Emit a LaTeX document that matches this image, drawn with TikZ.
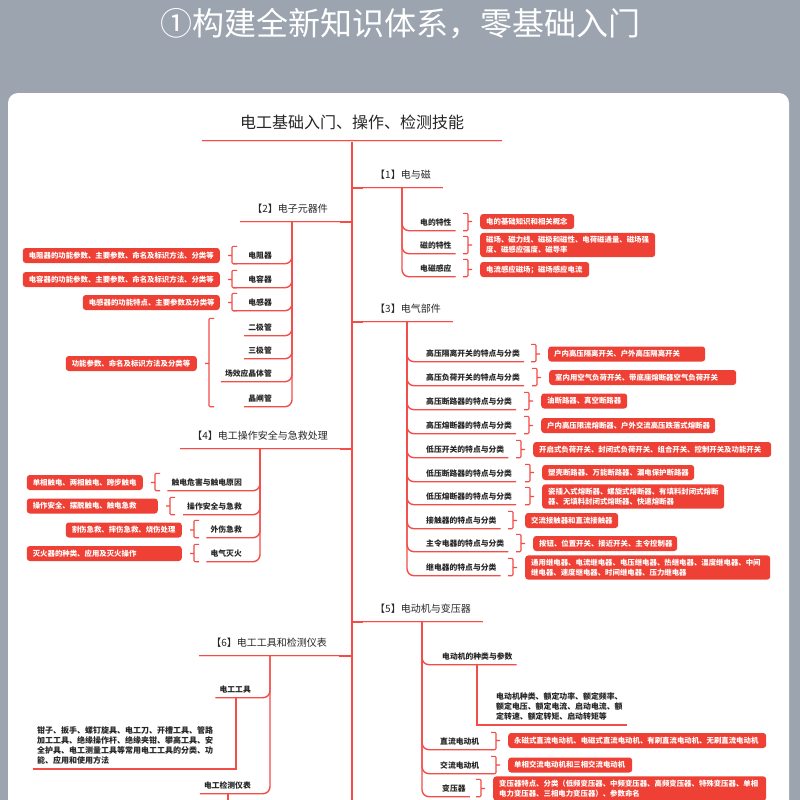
\documentclass[tikz,border=0pt]{standalone}
\usepackage{fontspec}
\setmainfont{Noto Sans CJK SC}
\usepackage{xcolor}
\usetikzlibrary{positioning}

\definecolor{bggray}{RGB}{155,164,175}
\definecolor{linered}{RGB}{244,76,70}
\definecolor{linepale}{RGB}{255,214,210}
\definecolor{tagred}{RGB}{238,64,52}
\definecolor{ink}{RGB}{38,38,38}

% bracket between item(s) #1..#2 and a tag #3 lying right of them
\newcommand{\tagbrR}[3]{%
  \draw[brk] ([xshift=-17pt]#3.west |- #1.north) -- ([xshift=-12pt]#3.west |- #1.north)
    -- ([xshift=-12pt]#3.west |- #2.south) -- ([xshift=-17pt]#3.west |- #2.south)
    ([xshift=-12pt]#3.west) -- ([xshift=-8pt]#3.west);}
% same, tag lying left of them
\newcommand{\tagbrL}[3]{%
  \draw[brk] ([xshift=17pt]#3.east |- #1.north) -- ([xshift=12pt]#3.east |- #1.north)
    -- ([xshift=12pt]#3.east |- #2.south) -- ([xshift=17pt]#3.east |- #2.south)
    ([xshift=12pt]#3.east) -- ([xshift=8pt]#3.east);}

\begin{document}
\begin{tikzpicture}[
    x=1pt, y=-1pt,
    head/.style={font=\fontsize{16}{16}\selectfont, text=ink, text height=14pt, text depth=1.6pt, inner ysep=11pt, minimum width=300pt},
    sec/.style={font=\fontsize{10}{10}\selectfont, text=ink, text height=8.7pt, text depth=1pt, inner xsep=12pt, inner ysep=8.2pt},
    item/.style={font=\bfseries\fontsize{7.8}{7.8}\selectfont, text=ink, text height=6.8pt, text depth=0.8pt, inner xsep=4pt, inner ysep=4.7pt},
    tag/.style={fill=tagred, rounded corners=3pt, text=white, font=\bfseries\fontsize{7.4}{10}\selectfont, inner xsep=6pt, inner ysep=3.5pt, minimum height=15pt, align=left},
    note/.style={font=\bfseries\fontsize{7.9}{10.4}\selectfont, text=ink, align=left, inner sep=4pt},
    dline/.style={draw=linered, line width=0.9pt, double=linepale, double distance=0.9pt},
    trunk/.style={draw=linered, line width=1.4pt},
    branch/.style={draw=linered, line width=1.4pt, rounded corners=7pt},
    brk/.style={draw=linered, line width=1.1pt, rounded corners=1pt}
]
\useasboundingbox (0,0) rectangle (800,800);
\clip (0,0) rectangle (800,800);

% Background and card
\fill[bggray] (0,0) rectangle (800,800);
\fill[white, rounded corners=10pt] (8,93) rectangle (789,840);
\node[font=\fontsize{32}{32}\selectfont, text=white] (title) at (400,24) {①构建全新知识体系，零基础入门};

% Root
\node[head, anchor=south] (head) at (352,141) {电工基础入门、操作、检测技能};
\coordinate (trunkend) at (352,810);

% Sections
\node[sec, anchor=south west] (s1) at (363,188) {【1】电与磁};
\node[sec, anchor=south east] (s2) at (340,222) {【2】电子元器件};
\node[sec, anchor=south west] (s3) at (363,322) {【3】电气部件};
\node[sec, anchor=south east] (s4) at (340,449) {【4】电工操作安全与急救处理};
\node[sec, anchor=south west] (s5) at (363,622) {【5】电动机与变压器};
\node[sec, anchor=south east] (s6) at (339,656) {【6】电工工具和检测仪表};

% [1] items
\coordinate (v1) at (402,188);
\node[item, anchor=west] (c11) at (416,222) {电的特性};
\node[item, anchor=west] (c12) at (416,245) {磁的特性};
\node[item, anchor=west] (c13) at (416,268) {电磁感应};
\node[tag, anchor=west, text width=82pt] (t11) at (480,221.5) {电的基础知识和相关概念};
\node[tag, anchor=west, text width=163pt] (t12) at (480,245) {磁场、磁力线、磁极和磁性、电荷磁通量、磁场强\\度、磁感应强度、磁导率};
\node[tag, anchor=west, text width=97pt] (t13) at (480,269.5) {电流感应磁场；磁场感应电流};

% [2] items
\coordinate (v2) at (292,222);
\node[item, anchor=east] (c21) at (276,255) {电阻器};
\node[item, anchor=east] (c22) at (276,279) {电容器};
\node[item, anchor=east] (c23) at (276,302) {电感器};
\node[item, anchor=east] (c24) at (276,327) {二极管};
\node[item, anchor=east] (c25) at (276,350) {三极管};
\node[item, anchor=east] (c26) at (276,373) {场效应晶体管};
\node[item, anchor=east] (c27) at (276,398) {晶闸管};
\node[tag, anchor=east, text width=185pt] (t21) at (220,255.5) {电阻器的功能参数、主要参数、命名及标识方法、分类等};
\node[tag, anchor=east, text width=185pt] (t22) at (220,279.5) {电容器的功能参数、主要参数、命名及标识方法、分类等};
\node[tag, anchor=east, text width=125pt] (t23) at (220,302.5) {电感器的功能特点、主要参数及分类等};
\node[tag, anchor=east, text width=119pt] (t24) at (197,363.5) {功能参数、命名及标识方法及分类等};

% [3] items
\coordinate (v3) at (407,322);
\node[item, anchor=west] (c31) at (422,353) {高压隔离开关的特点与分类};
\node[item, anchor=west] (c32) at (422,377) {高压负荷开关的特点与分类};
\node[item, anchor=west] (c33) at (422,401) {高压断路器的特点与分类};
\node[item, anchor=west] (c34) at (422,425) {高压熔断器的特点与分类};
\node[item, anchor=west] (c35) at (422,449) {低压开关的特点与分类};
\node[item, anchor=west] (c36) at (422,473) {低压断路器的特点与分类};
\node[item, anchor=west] (c37) at (422,496) {低压熔断器的特点与分类};
\node[item, anchor=west] (c38) at (422,520) {接触器的特点与分类};
\node[item, anchor=west] (c39) at (422,543) {主令电器的特点与分类};
\node[item, anchor=west] (c310) at (422,567) {继电器的特点与分类};
\node[tag, anchor=west, text width=145pt] (t31) at (548,354) {户内高压隔离开关、户外高压隔离开关};
\node[tag, anchor=west, text width=175pt] (t32) at (549,377.5) {室内用空气负荷开关、带底座熔断器空气负荷开关};
\node[tag, anchor=west, text width=74pt] (t33) at (541,401) {油断路器、真空断路器};
\node[tag, anchor=west, text width=162pt] (t34) at (541,425.5) {户内高压限流熔断器、户外交流高压跌落式熔断器};
\node[tag, anchor=west, text width=226pt] (t35) at (533,449.5) {开启式负荷开关、封闭式负荷开关、组合开关、控制开关及功能开关};
\node[tag, anchor=west, text width=140pt] (t36) at (542,472.5) {塑壳断路器、万能断路器、漏电保护断路器};
\node[tag, anchor=west, text width=170pt] (t37) at (542,496.5) {瓷插入式熔断器、螺旋式熔断器、有填料封闭式熔断\\器、无填料封闭式熔断器、快速熔断器};
\node[tag, anchor=west, text width=81pt] (t38) at (525,520.5) {交流接触器和直流接触器};
\node[tag, anchor=west, text width=132pt] (t39) at (533,543.5) {按钮、位置开关、接近开关、主令控制器};
\node[tag, anchor=west, text width=233pt] (t310) at (525,567.5) {通用继电器、电流继电器、电压继电器、热继电器、温度继电器、中间\\继电器、速度继电器、时间继电器、压力继电器};

% [4] items
\coordinate (v4) at (260,449);
\node[item, anchor=east] (c41) at (246,482) {触电危害与触电原因};
\node[item, anchor=east] (c42) at (246,506) {操作安全与急救};
\node[item, anchor=east] (c43) at (246,529) {外伤急救};
\node[item, anchor=east] (c44) at (246,553) {电气灭火};
\node[tag, anchor=east, text width=104pt] (t41) at (143,482.5) {单相触电、两相触电、跨步触电};
\node[tag, anchor=east, text width=119pt] (t42) at (158,506) {操作安全、摆脱触电、触电急救};
\node[tag, anchor=east, text width=104pt] (t43) at (182,530) {割伤急救、摔伤急救、烧伤处理};
\node[tag, anchor=east, text width=143pt] (t44) at (182,553.5) {灭火器的种类、应用及灭火操作};

% [5] items
\coordinate (v5) at (422,622);
\node[item, anchor=west] (c51) at (438,656) {电动机的种类与参数};
\coordinate (v51) at (477,664);
\node[note, anchor=south west] (n51) at (492,725) {电动机种类、额定功率、额定频率、\\额定电压、额定电流、启动电流、额\\定转速、额定转矩、启动转矩等};
\node[item, anchor=west] (c52) at (436,741) {直流电动机};
\node[item, anchor=west] (c53) at (436,765) {交流电动机};
\node[item, anchor=west] (c54) at (438,788) {变压器};
\node[tag, anchor=west, text width=246pt] (t51) at (508,740.5) {永磁式直流电动机、电磁式直流电动机、有刷直流电动机、无刷直流电动机};
\node[tag, anchor=west, text width=112pt] (t52) at (508,765) {单相交流电动机和三相交流电动机};
\node[tag, anchor=west, text width=261pt] (t53) at (493,788.5) {变压器特点、分类（低频变压器、中频变压器、高频变压器、特殊变压器、单相\\电力变压器、三相电力变压器）、参数命名};

% [6] items
\coordinate (v6) at (270,656);
\node[item, anchor=east] (c61) at (255,689) {电工工具};
\coordinate (v61) at (236,698);
\node[note, font=\bfseries\fontsize{8}{10}\selectfont, anchor=south west] (n61) at (33,769) {钳子、扳手、螺钉旋具、电工刀、开槽工具、管路\\加工工具、绝缘操作杆、绝缘夹钳、攀高工具、安\\全护具、电工测量工具等常用电工工具的分类、功\\能、应用和使用方法};
\node[item, anchor=east] (c62) at (255,785) {电工检测仪表};
\coordinate (v62) at (228,793);
\coordinate (v62end) at (228,810);

% Trunk and section lines
\draw[trunk] (head.south) -- (trunkend);
\draw[trunk] (head.south |- s1.south west) -- (s1.south west);
\draw[trunk] (s2.south east) -- (head.south |- s2.south east);
\draw[trunk] (head.south |- s3.south west) -- (s3.south west);
\draw[trunk] (s4.south east) -- (head.south |- s4.south east);
\draw[trunk] (head.south |- s5.south west) -- (s5.south west);
\draw[trunk] (s6.south east) -- (head.south |- s6.south east);
\draw[dline] (head.south west) -- (head.south east);
\draw[dline] (s1.south west) -- (s1.south east);
\draw[dline] (s2.south west) -- (s2.south east);
\draw[dline] (s3.south west) -- (s3.south east);
\draw[dline] (s4.south west) -- (s4.south east);
\draw[dline] (s5.south west) -- (s5.south east);
\draw[dline] (s6.south west) -- (s6.south east);

% Branches
\draw[branch] (v1) |- (c11.south east);
\draw[branch] (v1) |- (c12.south east);
\draw[branch] (v1) |- (c13.south east);

\draw[branch] (v2) |- ([xshift=-11pt]c21.south west);
\draw[branch] (v2) |- ([xshift=-11pt]c22.south west);
\draw[branch] (v2) |- ([xshift=-11pt]c23.south west);
\draw[branch] (v2) |- (c24.south west);
\draw[branch] (v2) |- (c25.south west);
\draw[branch] (v2) |- (c26.south west);
\draw[branch] (v2) |- (c27.south west);

\draw[branch] (v3) |- (c31.south east);
\draw[branch] (v3) |- (c32.south east);
\draw[branch] (v3) |- (c33.south east);
\draw[branch] (v3) |- (c34.south east);
\draw[branch] (v3) |- (c35.south east);
\draw[branch] (v3) |- (c36.south east);
\draw[branch] (v3) |- (c37.south east);
\draw[branch] (v3) |- (c38.south east);
\draw[branch] (v3) |- (c39.south east);
\draw[branch] (v3) |- (c310.south east);

\draw[branch] (v4) |- (c41.south west);
\draw[branch] (v4) |- (c42.south west);
\draw[branch] (v4) |- (c43.south west);
\draw[branch] (v4) |- (c44.south west);

\draw[branch] (v5) |- (c51.south east);
\draw[branch] (v5) |- ([xshift=9pt]c52.south east);
\draw[branch] (v5) |- ([xshift=9pt]c53.south east);
\draw[branch] (v5) |- (c54.south east);
\draw[branch, sharp corners] (v51) |- (n51.south east);

\draw[branch] (v6) |- (c61.south west);
\draw[branch] (v6) |- (c62.south west);
\draw[branch, sharp corners] (v61) |- (n61.south west);
\draw[branch] (v62) -- (v62end);

% Brackets to tags
\tagbrR{c11}{c11}{t11}
\tagbrR{c12}{c12}{t12}
\tagbrR{c13}{c13}{t13}
\tagbrL{c21}{c21}{t21}
\tagbrL{c22}{c22}{t22}
\tagbrL{c23}{c23}{t23}
\tagbrL{c24}{c27}{t24}
\tagbrR{c31}{c31}{t31}
\tagbrR{c32}{c32}{t32}
\tagbrR{c33}{c33}{t33}
\tagbrR{c34}{c34}{t34}
\tagbrR{c35}{c35}{t35}
\tagbrR{c36}{c36}{t36}
\tagbrR{c37}{c37}{t37}
\tagbrR{c38}{c38}{t38}
\tagbrR{c39}{c39}{t39}
\tagbrR{c310}{c310}{t310}
\tagbrL{c41}{c41}{t41}
\tagbrL{c42}{c42}{t42}
\tagbrL{c43}{c43}{t43}
\tagbrL{c44}{c44}{t44}
\tagbrR{c52}{c52}{t51}
\tagbrR{c53}{c53}{t52}
\tagbrR{c54}{c54}{t53}

\end{tikzpicture}
\end{document}
